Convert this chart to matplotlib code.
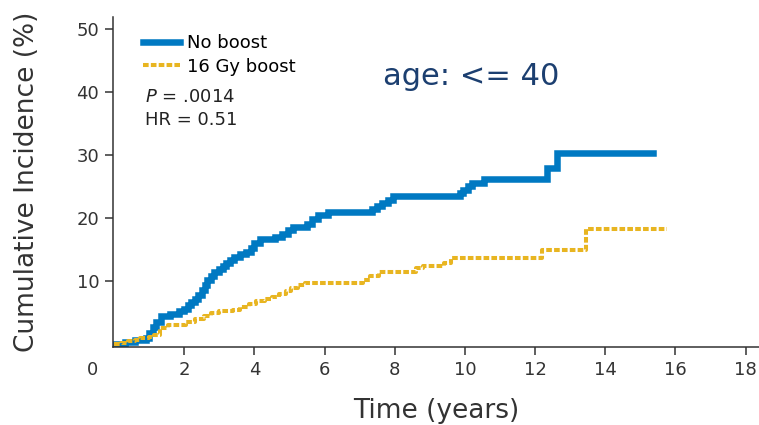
import matplotlib
matplotlib.use("Agg")
import matplotlib.pyplot as plt


# step points (years, cumulative incidence %)
no_boost_t = [0, 0.3, 0.6, 0.9, 1.0, 1.1, 1.2, 1.35, 1.6, 1.85,
              2.0, 2.1, 2.2, 2.3, 2.4, 2.5, 2.58, 2.65, 2.75, 2.85,
              3.0, 3.1, 3.2, 3.3, 3.42, 3.6, 3.75, 3.9, 4.0, 4.15,
              4.6, 4.8, 4.95, 5.1, 5.5, 5.65, 5.8, 6.1, 7.35, 7.5,
              7.65, 7.8, 7.95, 9.85, 9.95, 10.1, 10.2, 10.55, 12.33, 12.62,
              15.35]
no_boost_v = [0, 0.3, 0.6, 1.0, 1.8, 2.6, 3.5, 4.4, 4.8, 5.2,
              5.6, 6.1, 6.6, 7.1, 7.8, 8.5, 9.3, 10.1, 10.8, 11.4,
              11.9, 12.4, 12.9, 13.3, 13.8, 14.2, 14.6, 15.2, 16.0, 16.6,
              16.9, 17.5, 18.1, 18.6, 19.1, 19.8, 20.4, 20.9, 21.4, 21.9,
              22.4, 22.9, 23.5, 24.0, 24.5, 25.0, 25.5, 26.1, 28.0, 30.3,
              30.3]

boost_t = [0, 0.2, 0.4, 0.6, 0.75, 1.0, 1.15, 1.3, 1.55, 2.05,
           2.3, 2.55, 2.75, 3.0, 3.4, 3.6, 3.85, 4.05, 4.3, 4.5,
           4.7, 4.9, 5.05, 5.25, 5.45, 7.1, 7.3, 7.55, 8.6, 8.8,
           9.4, 9.6, 12.2, 13.45, 15.75]
boost_v = [0, 0.2, 0.4, 0.6, 0.9, 1.1, 1.4, 2.5, 3.0, 3.4,
           4.0, 4.5, 4.9, 5.2, 5.4, 5.8, 6.3, 6.8, 7.1, 7.5,
           7.9, 8.4, 8.9, 9.3, 9.6, 10.2, 10.7, 11.4, 12.0, 12.3,
           12.9, 13.6, 14.85, 18.2, 18.2]

series_labels = ["No boost", "16 Gy boost"]
x_ticks = [2, 4, 6, 8, 10, 12, 14, 16, 18]
y_ticks = [10, 20, 30, 40, 50]
p_text = "$P$ = .0014"
hr_text = "HR = 0.51"
title_text = "age: <= 40"

blue = "#0079C2"
yellow = "#E8B521"
axis_grey = "#333333"

plt.rcParams['font.family'] = ['DejaVu Sans']

fig = plt.figure(figsize=(7.59, 4.25), dpi=100)
ax = fig.add_axes([0.1489, 0.1835, 0.851, 0.7765])

ax.plot(no_boost_t, no_boost_v, drawstyle='steps-post', color=blue, lw=4.7,
        solid_joinstyle='miter', label=series_labels[0])
ax.plot(boost_t, boost_v, drawstyle='steps-post', color=yellow, lw=2.9,
        linestyle=(0, (1.4, 0.55)), label=series_labels[1])

ax.set_xlim(-0.03, 18.38)
ax.set_ylim(-0.5, 51.9)
ax.set_xticks(x_ticks)
ax.set_yticks(y_ticks)

for side in ['top', 'right']:
    ax.spines[side].set_visible(False)
for side in ['left', 'bottom']:
    ax.spines[side].set_color(axis_grey)
    ax.spines[side].set_linewidth(1.1)

ax.tick_params(axis='both', direction='out', length=6, width=1.1, color=axis_grey,
               labelcolor=axis_grey, labelsize=13, pad=4)

# the "0" sits at the corner, left of the axis
ax.text(-0.0325, -0.07, "0", transform=ax.transAxes, ha='center', va='center',
        fontsize=13, color=axis_grey)

ax.set_ylabel("Cumulative Incidence (%)", fontsize=19, color=axis_grey)
ax.yaxis.set_label_coords(-0.113, 0.5)
ax.set_xlabel("Time (years)", fontsize=19, color=axis_grey, labelpad=14)

ax.legend(loc='upper left', bbox_to_anchor=(0.0464, 0.948), frameon=False,
          fontsize=13, handlelength=2.05, handletextpad=0.4, labelspacing=0.3,
          borderpad=0, borderaxespad=0)
ax.text(0.0495, 0.758, p_text, transform=ax.transAxes, ha='left', va='center',
        fontsize=13, color="#222222")
ax.text(0.0495, 0.688, hr_text, transform=ax.transAxes, ha='left', va='center',
        fontsize=13, color="#222222")

fig.text(0.5046, 0.8, title_text, ha='left', va='baseline', fontsize=22,
         color="#1C3F70")

fig.savefig("out.png", dpi=100)
